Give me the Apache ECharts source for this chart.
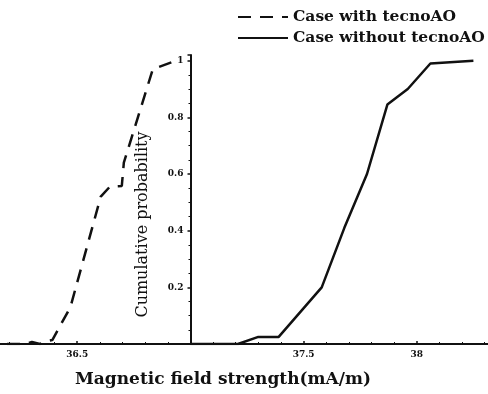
<!DOCTYPE html>
<html><head><meta charset="utf-8">
<script src="https://cdn.jsdelivr.net/npm/echarts@6/dist/echarts.min.js"></script>
<style>html,body{margin:0;padding:0;background:#fff}#c{width:488px;height:394px}</style>
</head><body><div id="c"></div>
<script>
// Case with tecnoAO (dashed)
const withX = [36.19, 36.27, 36.30, 36.335, 36.365, 36.39, 36.47, 36.604, 36.644, 36.697, 36.706, 36.834, 36.936];
const withY = [0, 0, 0.007, 0, 0.01, 0.014, 0.13, 0.52, 0.555, 0.558, 0.64, 0.97, 1.0];
// Case without tecnoAO (solid)
const withoutX = [37.0, 37.21, 37.30, 37.39, 37.58, 37.68, 37.78, 37.87, 37.96, 38.06, 38.25];
const withoutY = [0, 0, 0.025, 0.025, 0.20, 0.41, 0.60, 0.845, 0.90, 0.99, 1.0];

const seriesNames = ['Case with tecnoAO', 'Case without tecnoAO'];
const xTickValues = [36.5, 37.5, 38];
const xTickLabels = ['36.5', '37.5', '38'];
const yTickValues = [0.2, 0.4, 0.6, 0.8, 1];
const yTickLabels = ['0.2', '0.4', '0.6', '0.8', '1'];
const xTitle = 'Magnetic field strength(mA/m)';
const yTitle = 'Cumulative probability';

const zip = (xs, ys) => xs.map((x, i) => [x, ys[i]]);
const findLabel = (vals, labs, v) => {
  const i = vals.findIndex(t => Math.abs(t - v) < 1e-6);
  return i >= 0 ? labs[i] : '';
};

const serif = 'DejaVu Serif';
const chart = echarts.init(document.getElementById('c'), null, {renderer: 'canvas'});
chart.setOption({
  backgroundColor: '#fff',
  animation: false,
  title: {
    text: xTitle, left: 70, top: 366,
    textStyle: {fontFamily: serif, fontWeight: 'bold', fontSize: 17, color: '#111'}
  },
  legend: {
    orient: 'vertical', left: 232, top: 4, itemWidth: 50, itemHeight: 14, itemGap: 5,
    itemStyle: {color: 'rgba(0,0,0,0)', borderWidth: 0, opacity: 0},
    textStyle: {fontFamily: serif, fontWeight: 'bold', fontSize: 15.5, color: '#111'},
    data: seriesNames
  },
  grid: {left: -36, right: -42, top: 55, bottom: 50, containLabel: false, outerBoundsMode: 'none'},
  xAxis: {
    type: 'value', min: 36, max: 38.5, interval: 0.5,
    axisLine: {lineStyle: {color: '#111', width: 2}},
    axisTick: {inside: true, length: 3, lineStyle: {color: '#111', width: 1.5}},
    minorTick: {show: true, splitNumber: 5, length: 2, lineStyle: {color: '#111', width: 1}},
    splitLine: {show: false},
    axisLabel: {
      margin: 6, fontFamily: serif, fontWeight: 'bold', fontSize: 9, color: '#111',
      formatter: v => findLabel(xTickValues, xTickLabels, v)
    }
  },
  yAxis: {
    type: 'value', min: 0, max: 1.02, interval: 0.2, offset: -226.5,
    name: yTitle, nameLocation: 'middle', nameGap: 40,
    nameTextStyle: {fontFamily: serif, fontSize: 16, color: '#111', padding: [0, 50, 0, 0]},
    axisLine: {show: true, lineStyle: {color: '#111', width: 2}},
    axisTick: {show: true, inside: false, length: 3, lineStyle: {color: '#111', width: 1.5}},
    minorTick: {show: true, splitNumber: 4, length: 2, lineStyle: {color: '#111', width: 1}},
    splitLine: {show: false},
    axisLabel: {
      margin: 7, fontFamily: serif, fontWeight: 'bold', fontSize: 9, color: '#111',
      formatter: v => findLabel(yTickValues, yTickLabels, v)
    }
  },
  series: [
    {
      name: seriesNames[0], type: 'line', data: zip(withX, withY), symbol: 'none',
      lineStyle: {color: '#111', width: 2.5, type: [13, 9]}, itemStyle: {color: '#111'}
    },
    {
      name: seriesNames[1], type: 'line', data: zip(withoutX, withoutY), symbol: 'none',
      lineStyle: {color: '#111', width: 2.5, type: 'solid'}, itemStyle: {color: '#111'}
    }
  ]
});
</script></body></html>
